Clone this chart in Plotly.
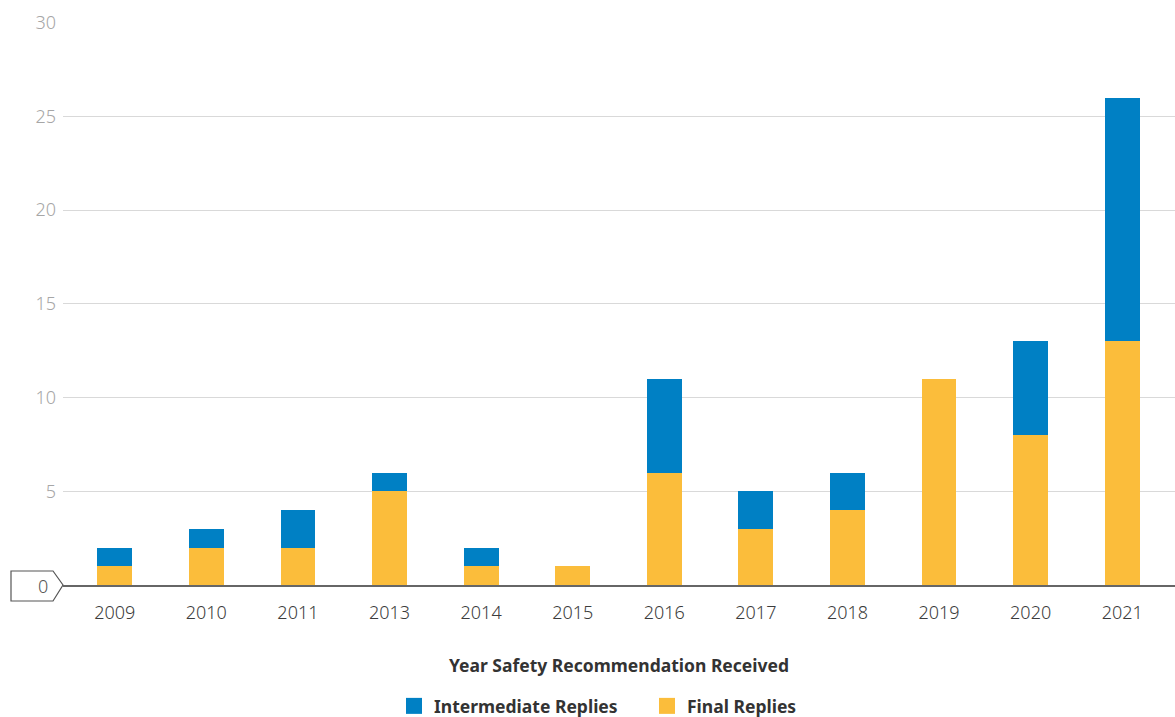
import plotly.graph_objects as go

years = ["2009", "2010", "2011", "2013", "2014", "2015", "2016", "2017", "2018", "2019", "2020", "2021"]
final_replies = [1, 2, 2, 5, 1, 1, 6, 3, 4, 11, 8, 13]
intermediate_replies = [1, 1, 2, 1, 1, 0, 5, 2, 2, 0, 5, 13]
y_ticks = [5, 10, 15, 20, 25, 30]

BLUE = "#0080C4"
YELLOW = "#FBBD3B"
FONT = "Noto Sans"

W, H = 1175, 717
PLOT_L, PLOT_T, PLOT_R, PLOT_B = 63, 22, 1175, 585  # pixels
L = PLOT_L
T = PLOT_T
R = W - PLOT_R
B = H - PLOT_B
pw = W - L - R
ph = H - T - B

fig = go.Figure()
fig.add_trace(go.Bar(x=years, y=final_replies, name="Final Replies", showlegend=False,
                     marker=dict(color=YELLOW, line=dict(width=0))))
fig.add_trace(go.Bar(x=years, y=intermediate_replies, name="Intermediate Replies", showlegend=False,
                     marker=dict(color=BLUE, line=dict(width=0))))
# legend entries with larger square swatches
fig.add_trace(go.Scatter(x=[None], y=[None], mode="markers", name="Intermediate Replies",
                         marker=dict(symbol="square", size=16, color=BLUE)))
fig.add_trace(go.Scatter(x=[None], y=[None], mode="markers", name="Final Replies",
                         marker=dict(symbol="square", size=16, color=YELLOW)))


def px_x(p):
    return (p - PLOT_L) / pw


def px_y(p):
    return (PLOT_B - p) / ph


path = "M {a},{t} L {b},{t} L {c},{m} L {b},{bt} L {a},{bt} Z".format(
    a=px_x(11), b=px_x(53), c=px_x(63), t=px_y(571), m=px_y(585), bt=px_y(601))
fig.add_shape(type="path", path=path, xref="paper", yref="paper",
              line=dict(color="#555555", width=1.2), fillcolor="rgba(0,0,0,0)", layer="below")
fig.add_annotation(text="0", x=px_x(43), y=px_y(586), xref="paper", yref="paper",
                   xanchor="center", yanchor="middle",
                   showarrow=False, font=dict(family=FONT, size=18, color="#555555", weight=300))

fig.update_layout(
    barmode="stack",
    bargap=0.62,
    width=W, height=H,
    margin=dict(l=L, r=R, t=T, b=B, autoexpand=False),
    paper_bgcolor="white", plot_bgcolor="white",
    font=dict(family=FONT),
    legend=dict(orientation="h", x=px_x(394), xanchor="left",
                y=px_y(706), yanchor="middle", traceorder="normal",
                font=dict(family=FONT, size=17.5, color="#333333", weight="bold"),
                entrywidth=208, entrywidthmode="pixels"),
    xaxis=dict(range=[-0.565, 11.576], showline=True, linecolor="#666666", linewidth=2,
               ticks="", tickfont=dict(family=FONT, size=18, color="#3c3c3c", weight=300),
               ticklabelstandoff=10,
               title=dict(text="Year Safety Recommendation Received", standoff=37,
                          font=dict(family=FONT, size=17.5, color="#333333", weight="bold")),
               showgrid=False),
    yaxis=dict(range=[0, 30.03], tickvals=y_ticks, showgrid=True, gridcolor="#d9d9d9", gridwidth=1,
               zeroline=False, ticks="", ticklabelstandoff=6,
               tickfont=dict(family=FONT, size=18, color="#a6a6a6", weight=300)),
)

fig.write_html("out.html", config={"displayModeBar": False},
               post_script="document.body.style.margin='0';document.body.style.overflow='hidden';")
